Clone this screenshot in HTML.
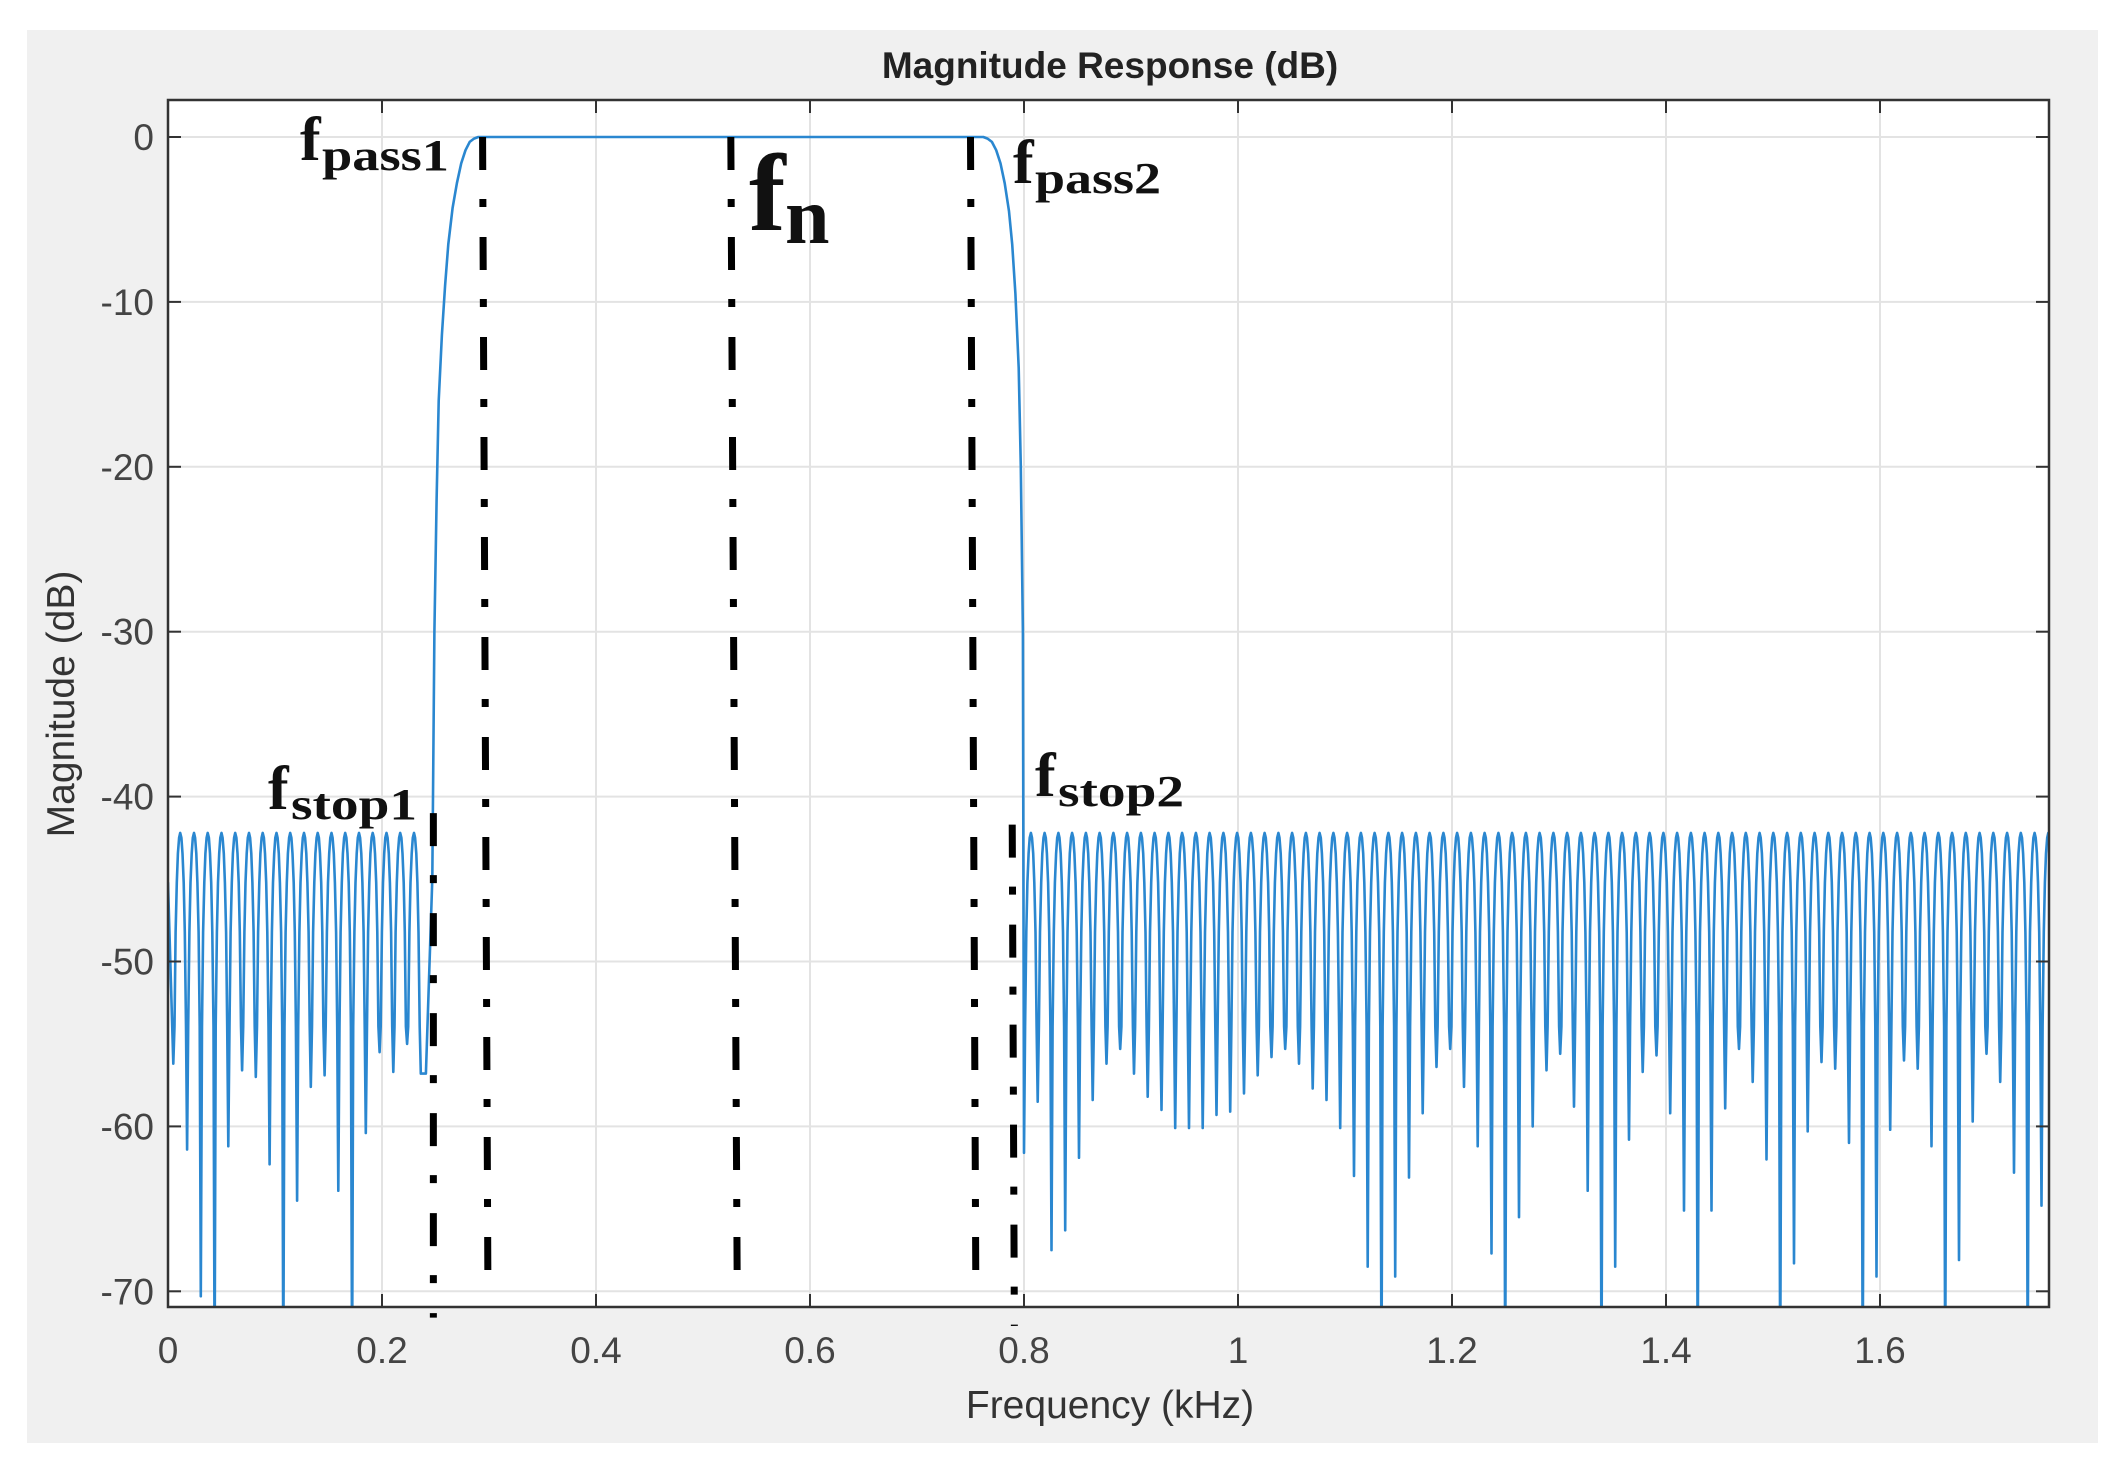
<!DOCTYPE html>
<html><head><meta charset="utf-8"><style>
html,body{margin:0;padding:0;background:#fff;}
svg{display:block;}
</style></head><body>
<svg id="chart" width="2122" height="1481" viewBox="0 0 2122 1481" xmlns="http://www.w3.org/2000/svg">
<rect x="27" y="30" width="2071" height="1413" fill="#f0f0f0"/>
<rect x="168" y="100" width="1881" height="1207" fill="#fff"/>
<g id="grid"></g>
<defs><clipPath id="clip"><rect x="168" y="100" width="1881" height="1207"/></clipPath></defs>
<g id="series" clip-path="url(#clip)"></g>
<g id="markers"></g>
<rect x="168" y="100" width="1881" height="1207" fill="none" stroke="#333" stroke-width="2.5"/>
<g id="ticks"></g>
<text x="1110" y="78" text-anchor="middle" font-family="Liberation Sans, sans-serif" font-weight="bold" font-size="37" fill="#222">Magnitude Response (dB)</text>
<text x="1110" y="1418" text-anchor="middle" font-family="Liberation Sans, sans-serif" font-size="39" fill="#333">Frequency (kHz)</text>
<text transform="translate(74,704) rotate(-90)" text-anchor="middle" font-family="Liberation Sans, sans-serif" font-size="39" fill="#333">Magnitude (dB)</text>
<g font-family="Liberation Serif, serif" font-weight="bold" fill="#111">
<text x="300" y="160" font-size="62">f<tspan x="322" y="170" font-size="44" textLength="127" lengthAdjust="spacingAndGlyphs">pass1</tspan></text>
<text x="1013" y="183" font-size="62">f<tspan x="1035" y="193" font-size="44" textLength="126" lengthAdjust="spacingAndGlyphs">pass2</tspan></text>
<text x="749" y="230" font-size="110">f<tspan x="785" y="243" font-size="80">n</tspan></text>
<text x="268" y="809" font-size="62">f<tspan x="291" y="819" font-size="44" textLength="126" lengthAdjust="spacingAndGlyphs">stop1</tspan></text>
<text x="1035" y="796" font-size="62">f<tspan x="1058" y="806" font-size="44" textLength="126" lengthAdjust="spacingAndGlyphs">stop2</tspan></text>
</g>
</svg>
<script>
const xTicks = [0, 0.2, 0.4, 0.6, 0.8, 1, 1.2, 1.4, 1.6];
const xTickLabels = ["0", "0.2", "0.4", "0.6", "0.8", "1", "1.2", "1.4", "1.6"];
const yTicks = [0, -10, -20, -30, -40, -50, -60, -70];
const yTickLabels = ["0", "-10", "-20", "-30", "-40", "-50", "-60", "-70"];
const stopPeak = -42.2;
const nullSpacing = 0.01285;
const leftStart = 0.005;
const leftNulls = [-56.2,-61.4,-70.3,-75,-61.2,-56.6,-57,-62.3,-75,-64.5,-57.6,-56.9,-63.9,-75,-60.4,-55.5,-56.7,-55,-56.8];
const rightStart = 0.800;
const rightNulls = [-61.6,-58.5,-67.5,-66.3,-61.9,-58.4,-56.2,-55.3,-56.8,-58.2,-59.0,-60.1,-60.1,-60.1,-59.3,-59.1,-58.0,-56.9,-55.8,-55.3,-56.2,-57.7,-58.4,-60.1,-63.0,-68.5,-75,-69.1,-63.1,-59.2,-56.4,-55.3,-57.6,-61.2,-67.7,-75,-65.5,-60.0,-56.6,-55.6,
 -58.8,-63.9,-75,-68.5,-60.8,-56.7,-55.7,-59.2,-65.1,-75,-65.1,-58.9,-55.3,-57.3,-62.0,-75,-68.3,-60.3,-56.1,-56.5,-61.0,-75,-69.1,-60.2,-56.0,-56.5,-61.2,-75,-68.1,-59.7,-55.6,-57.3,-62.8,-75,-64.8,-58.3,-54.8];
const riseFreq = [0.241,0.247,0.249,0.251,0.253,0.256,0.259,0.262,0.266,0.270,0.274,0.278,0.282,0.286,0.290];
const riseDb = [-56.8,-45,-30,-22,-16,-12,-9,-6.5,-4.3,-2.8,-1.6,-0.8,-0.3,-0.1,0];
const fallFreq = [0.762,0.766,0.770,0.774,0.778,0.782,0.786,0.789,0.792,0.795,0.797,0.799,0.800];
const fallDb = [0,-0.1,-0.3,-0.8,-1.6,-2.8,-4.5,-6.5,-9.5,-14,-20,-30,-61.6];
const markerNames = ["fstop1","fpass1","fn","fpass2","fstop2"];
const markerTopF = [0.248,0.294,0.526,0.750,0.789];
const markerBotF = [0.248,0.299,0.532,0.755,0.791];
const markerTopDb = [-41,0,0,0,-41.7];
const markerBotDb = [-71.6,-70,-70,-70,-72.1];

const X0=168, PXK=1070, Y0=137, PXDB=16.49;
const xs = f => X0 + f*PXK;
const ys = d => Y0 - d*PXDB;
const NS="http://www.w3.org/2000/svg";
function mk(tag, attrs, parent){const e=document.createElementNS(NS,tag);for(const k in attrs)e.setAttribute(k,attrs[k]);parent.appendChild(e);return e;}

const grid=document.getElementById('grid'), ticks=document.getElementById('ticks');
xTicks.forEach((v,i)=>{
  const x=xs(v);
  if(v>0){const g=mk('line',{x1:x,x2:x,y1:100,y2:1307,stroke:'#e3e3e3','stroke-width':2},grid);
  
  }
  const t1=mk('line',{x1:x,x2:x,y1:1307,y2:1294,stroke:'#333','stroke-width':2},ticks);
  
  
  const t2=mk('line',{x1:x,x2:x,y1:100,y2:113,stroke:'#333','stroke-width':2},ticks);
  
  
  const l=mk('text',{x:x,y:1363,'text-anchor':'middle','font-family':'Liberation Sans, sans-serif','font-size':37,fill:'#444'},ticks);
  l.textContent=xTickLabels[i];
  
  
});
yTicks.forEach((v,i)=>{
  const y=ys(v);
  const g=mk('line',{x1:168,x2:2049,y1:y,y2:y,stroke:'#e3e3e3','stroke-width':2},grid);
  
  
  const t1=mk('line',{x1:168,x2:181,y1:y,y2:y,stroke:'#333','stroke-width':2},ticks);
  
  
  const t2=mk('line',{x1:2036,x2:2049,y1:y,y2:y,stroke:'#333','stroke-width':2},ticks);
  
  
  const l=mk('text',{x:154,y:y+13,'text-anchor':'end','font-family':'Liberation Sans, sans-serif','font-size':37,fill:'#444'},ticks);
  l.textContent=yTickLabels[i];
  
  
});

const pts=[];
function lobes(start, nulls){
  for(let i=0;i<nulls.length-1;i++){
    const fa=start+i*nullSpacing;
    const da=nulls[i], db=nulls[i+1];
    const N=12;
    for(let k=0;k<=N;k++){
      const t=k/N;
      let d=stopPeak+20*Math.log10(Math.max(Math.sin(Math.PI*t),1e-4));
      const floor = t<0.5? da: db;
      if(d<floor) d=floor;
      pts.push([xs(fa+t*nullSpacing), ys(d)]);
    }
  }
}
pts.push([xs(0), ys(stopPeak-3)]);
lobes(leftStart, leftNulls);
riseFreq.forEach((f,i)=>pts.push([xs(f),ys(riseDb[i])]));
fallFreq.forEach((f,i)=>pts.push([xs(f),ys(fallDb[i])]));
lobes(rightStart, rightNulls);
const lastF = rightStart+(rightNulls.length-1)*nullSpacing;
pts.push([xs(lastF+0.006), ys(stopPeak)]);
pts.push([xs(1.76), ys(stopPeak-2)]);
const series=document.getElementById('series');
const p=mk('path',{d:'M'+pts.map(q=>q[0].toFixed(1)+','+q[1].toFixed(1)).join('L'),fill:'none',stroke:'#2a87d0','stroke-width':2.6,'stroke-linejoin':'round'},series);



const markers=document.getElementById('markers');
markerNames.forEach((n,i)=>{
  const l=mk('line',{x1:xs(markerTopF[i]),y1:ys(markerTopDb[i]),x2:xs(markerBotF[i]),y2:ys(markerBotDb[i]),stroke:'#000','stroke-width':7,'stroke-dasharray':'33 29 8 30'},markers);
  
  
});
</script>
</body></html>
